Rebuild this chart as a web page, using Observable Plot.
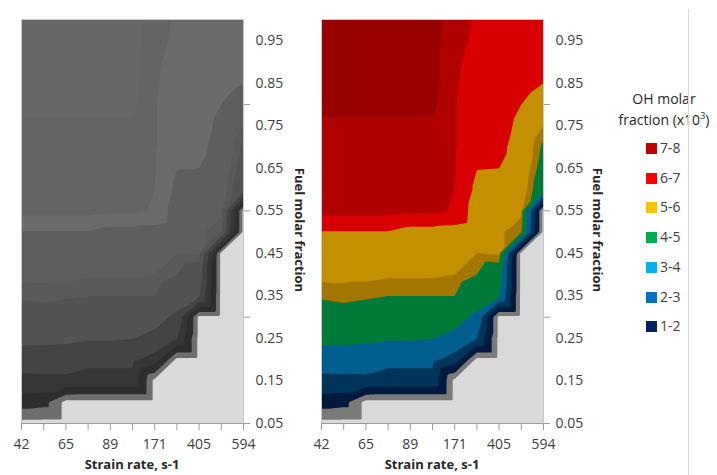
<!DOCTYPE html>
<html>
<head>
<meta charset="utf-8">
<script src="https://cdn.jsdelivr.net/npm/d3@7"></script>
<script src="https://cdn.jsdelivr.net/npm/@observablehq/plot@0.6"></script>
<style>
  body { margin: 0; background: #fff; }
  #root { position: relative; width: 717px; height: 475px; overflow: hidden; font-family: "Open Sans", sans-serif; }
  .panel { position: absolute; top: 0; }
  .xt { position: absolute; top: 456px; font-weight: bold; font-size: 13px; line-height: 17px; color: #262626; transform: translateX(-50%); white-space: nowrap; }
  .yt { position: absolute; writing-mode: vertical-rl; font-weight: bold; font-size: 13px; color: #262626; transform: translate(-50%, -50%); white-space: nowrap; }
  .lt { position: absolute; left: 664px; top: 88px; transform: translateX(-50%); font-size: 14px; line-height: 21px; color: #262626; text-align: center; white-space: nowrap; }
  .lt sup { font-size: 9px; vertical-align: 6px; line-height: 0; }
  .li { position: absolute; left: 646px; font-size: 14px; line-height: 18px; color: #404040; white-space: nowrap; }
  .li span { display: inline-block; width: 11px; height: 11px; margin-right: 3px; vertical-align: -1px; }
  .vline { position: absolute; left: 688px; top: 9px; width: 1px; height: 466px; background: #d9d9d9; }
</style>
</head>
<body>
<div id="root"></div>
<script>
// Strain rate categories (s-1); only every other one is labelled in the chart
const strainRates = ["42", "53", "65", "77", "89", "130", "171", "288", "405", "500", "594"];
// Fuel molar fraction rows
const fuelFractions = [0.05, 0.10, 0.15, 0.20, 0.25, 0.30, 0.35, 0.40, 0.45, 0.50,
                       0.55, 0.60, 0.65, 0.70, 0.75, 0.80, 0.85, 0.90, 0.95, 1.00];
const yTickLabels = [0.05, 0.15, 0.25, 0.35, 0.45, 0.55, 0.65, 0.75, 0.85, 0.95];
const yTickMarks = [0.05, 0.30, 0.55, 0.80];

// OH molar fraction (x10^3), one array per fuel molar fraction, across the strain rates
const f005 = [0, 0, 0, 0, 0, 0, 0, 0, 0, 0, 0];
const f010 = [1.45, 1.3, 0, 0, 0, 0, 0, 0, 0, 0, 0];
const f015 = [2.83, 2.85, 2.86, 2.7, 2.7, 2.7, 0, 0, 0, 0, 0];
const f020 = [3.33, 3.32, 3.3, 3.2, 3.2, 3.2, 2.6, 0, 0, 0, 0];
const f025 = [4.33, 4.3, 4.25, 4.1, 4.1, 4.02, 3.75, 3.0, 0, 0, 0];
const f030 = [4.78, 4.8, 4.75, 4.7, 4.7, 4.7, 4.35, 3.8, 0, 0, 0];
const f035 = [5.05, 5.1, 5.05, 5.0, 5.0, 5.0, 5.0, 4.5, 4.1, 0, 0];
const f040 = [5.35, 5.35, 5.35, 5.3, 5.3, 5.3, 5.25, 5.0, 4.6, 0, 0];
const f045 = [5.6, 5.6, 5.6, 5.6, 5.6, 5.6, 5.5, 5.25, 5.3, 0, 0];
const f050 = [5.95, 5.95, 5.95, 5.95, 5.6, 5.6, 5.55, 5.3, 5.3, 5.1, 0];
const f055 = [7.3, 7.3, 7.3, 7.3, 7.2, 7.2, 6.9, 5.4, 5.55, 5.3, 0];
const f060 = [7.3, 7.3, 7.3, 7.3, 7.3, 7.3, 7.0, 5.75, 5.75, 5.5, 4.55];
const f065 = [7.3, 7.3, 7.3, 7.3, 7.3, 7.3, 7.05, 6.02, 6.0, 5.6, 4.75];
const f070 = [7.3, 7.3, 7.3, 7.3, 7.3, 7.3, 7.05, 6.4, 6.2, 5.65, 4.9];
const f075 = [7.38, 7.38, 7.38, 7.38, 7.38, 7.38, 7.05, 6.5, 6.3, 5.8, 5.25];
const f080 = [7.55, 7.55, 7.55, 7.55, 7.55, 7.55, 7.05, 6.5, 6.4, 6.0, 5.6];
const f085 = [7.6, 7.6, 7.6, 7.6, 7.6, 7.6, 7.1, 6.6, 6.5, 6.3, 6.0];
const f090 = [7.6, 7.6, 7.6, 7.6, 7.6, 7.6, 7.15, 6.7, 6.6, 6.5, 6.3];
const f095 = [7.6, 7.6, 7.6, 7.6, 7.6, 7.6, 7.25, 6.85, 6.6, 6.5, 6.45];
const f100 = [7.6, 7.6, 7.6, 7.6, 7.6, 7.6, 7.3, 6.9, 6.6, 6.5, 6.5];
const ohRows = [f005, f010, f015, f020, f025, f030, f035, f040, f045, f050,
                f055, f060, f065, f070, f075, f080, f085, f090, f095, f100];

// Legend
const legendLabels = ["7-8", "6-7", "5-6", "4-5", "3-4", "2-3", "1-2"];
const legendColors = ["#C00000", "#FF0000", "#FFC000", "#00B050", "#00B0F0", "#0070C0", "#002060"];

// Band thresholds and rendered (shaded) band colours
const thresholds = [0, 0.25, 1, 2, 3, 4, 5, 5.25, 6, 7, 7.45];
const colourBands = ["#d9d9d9", "#7a7a7a", "#001a3d", "#00345a", "#005f8e", "#007a38", "#a27600", "#c49000", "#d80000", "#b00000", "#990000"];
const greyBands   = ["#d9d9d9", "#6e6e6e", "#2e2e2e", "#363636", "#444444", "#535353", "#595959", "#5e5e5e", "#6b6b6b", "#646464", "#676767"];

const points = [];
ohRows.forEach((row, j) => row.forEach((v, i) => points.push({i, f: fuelFractions[j], v})));

function panel(bands) {
  return Plot.plot({
    width: 310, height: 475,
    marginLeft: 21, marginRight: 67, marginTop: 19, marginBottom: 52,
    x: {domain: [0, strainRates.length - 1], axis: null},
    y: {domain: [fuelFractions[0], fuelFractions[fuelFractions.length - 1]], axis: null},
    color: {type: "threshold", domain: thresholds.slice(1), range: bands},
    style: {fontFamily: "Open Sans, sans-serif", fontSize: "14px", color: "#404040", background: "transparent", overflow: "visible"},
    marks: [
      Plot.frame({fill: bands[0]}),
      Plot.contour(points, {
        x: "i", y: "f", fill: "v", thresholds,
        interpolate: "barycentric",
        x1: 0, x2: strainRates.length - 1,
        y1: fuelFractions[0], y2: fuelFractions[fuelFractions.length - 1],
        pixelSize: 1, stroke: "none"
      }),
      Plot.frame({stroke: "#c8c8c8"}),
      Plot.axisX({
        ticks: d3.range(strainRates.length),
        tickFormat: (d) => (d % 2 === 0 ? strainRates[d] : ""),
        tickSize: 7, tickPadding: 9, stroke: "#9a9a9a", fill: "#404040", label: null
      }),
      Plot.ruleY([fuelFractions[0]], {stroke: "#9a9a9a"}),
      Plot.axisY({
        anchor: "right", ticks: yTickLabels, tickSize: 0, tickPadding: 12,
        tickFormat: d3.format(".2f"), fill: "#404040", label: null
      }),
      Plot.axisY({
        anchor: "right", ticks: yTickMarks, tickSize: 6,
        tickFormat: () => "", stroke: "#9a9a9a", label: null
      })
    ]
  });
}

const root = document.getElementById("root");

const left = panel(greyBands);
left.classList.add("panel");
left.style.left = "0px";
root.appendChild(left);

const right = panel(colourBands);
right.classList.add("panel");
right.style.left = "300px";
root.appendChild(right);

function addDiv(cls, html, styles) {
  const d = document.createElement("div");
  d.className = cls;
  d.innerHTML = html;
  Object.assign(d.style, styles || {});
  root.appendChild(d);
  return d;
}

addDiv("xt", "Strain rate, s-1", {left: "132px"});
addDiv("xt", "Strain rate, s-1", {left: "432px"});
addDiv("yt", "Fuel molar fraction", {left: "300px", top: "230px"});
addDiv("yt", "Fuel molar fraction", {left: "598px", top: "230px"});
addDiv("lt", "OH molar<br>fraction (x10<sup>3</sup>)");
legendLabels.forEach((lab, k) => {
  addDiv("li", `<span style="background:${legendColors[k]}"></span>${lab}`, {top: (139 + k * 29.7) + "px"});
});
addDiv("vline", "");
</script>
</body>
</html>
